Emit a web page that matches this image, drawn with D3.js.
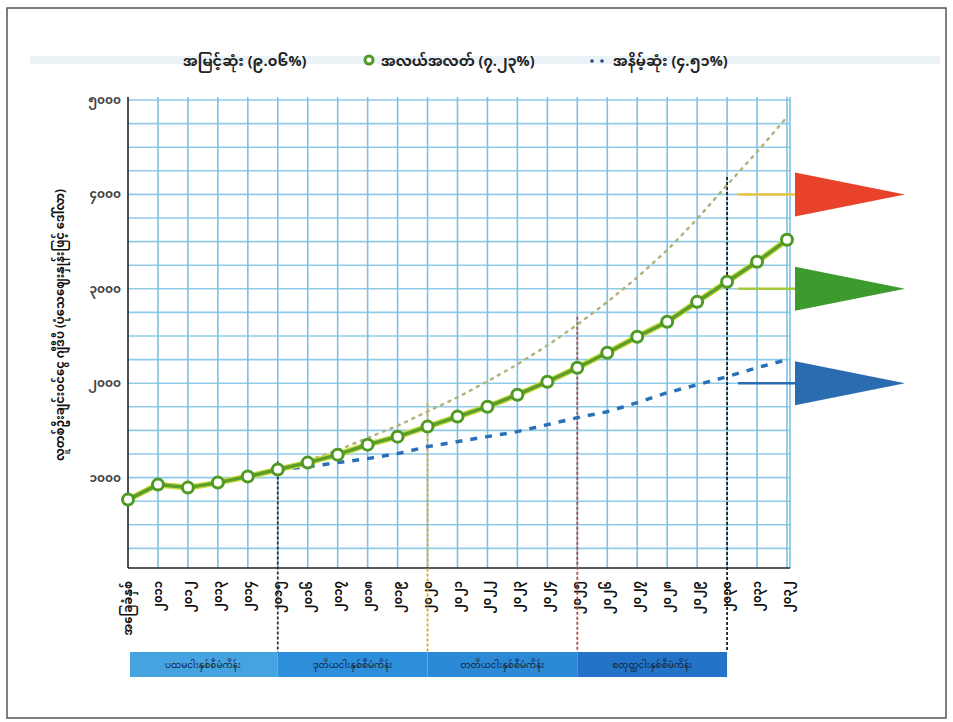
<!DOCTYPE html>
<html>
<head lang="my">
    <meta charset="UTF-8">
    <title></title>
    <script src="https://cdnjs.cloudflare.com/ajax/libs/d3/7.8.5/d3.min.js"></script>
    <style>
        body { margin: 0; background: #fff; }
        text { font-family: "Noto Sans Myanmar", "Padauk", "Myanmar Text", "DejaVu Sans", sans-serif; }
    </style>
</head>
<body>
<div id="chart"></div>
<script>
    var years = ["အခြေခံနှစ်", "၂၀၁၁", "၂၀၁၂", "၂၀၁၃", "၂၀၁၄", "၂၀၁၅", "၂၀၁၆", "၂၀၁၇", "၂၀၁၈", "၂၀၁၉",
        "၂၀၂၀", "၂၀၂၁", "၂၀၂၂", "၂၀၂၃", "၂၀၂၄", "၂၀၂၅", "၂၀၂၆", "၂၀၂၇", "၂၀၂၈", "၂၀၂၉",
        "၂၀၃၀", "၂၀၃၁", "၂၀၃၂"];

    // အလယ်အလတ်
    var medium = [767, 926, 894, 947, 1011, 1085, 1159, 1243, 1349, 1434, 1540, 1646,
        1751, 1878, 2016, 2164, 2323, 2492, 2651, 2862, 3074, 3286, 3519];
    // အမြင့်ဆုံး (index 5 ကစ)
    var high = [null, null, null, null, null, 1085, 1180, 1290, 1420, 1550, 1700, 1850,
        2020, 2200, 2400, 2620, 2860, 3120, 3410, 3740, 4100, 4450, 4820];
    // အနိမ့်ဆုံး (index 5 ကစ)
    var low = [null, null, null, null, null, 1085, 1116, 1159, 1201, 1254, 1328, 1381,
        1434, 1487, 1561, 1635, 1698, 1794, 1899, 1984, 2069, 2164, 2249];

    var yTicks = [1000, 2000, 3000, 4000, 5000];
    var yTickLabels = ["၁၀၀၀", "၂၀၀၀", "၃၀၀၀", "၄၀၀၀", "၅၀၀၀"];
    var legendLabels = ["အမြင့်ဆုံး (၉.၀၆%)", "အလယ်အလတ် (၇.၂၃%)", "အနိမ့်ဆုံး (၄.၅၁%)"];
    var plans = ["ပထမငါးနှစ်စီမံကိန်း", "ဒုတိယငါးနှစ်စီမံကိန်း", "တတိယငါးနှစ်စီမံကိန်း", "စတုတ္ထငါးနှစ်စီမံကိန်း"];
    var planBreaks = [0, 5, 10, 15, 20];
    var arrowLevels = [4000, 3000, 2000];
    var yTitle = "လူတစ်ဦးချင်းဝင်ငွေ ဂျီဒီပီ (ပုံသေဈေးနှုန်းဖြင့် ဒေါ်လာ)";

    var W = 953, H = 722;
    var svg = d3.select("#chart").append("svg")
            .attr("width", W)
            .attr("height", H);

    // page frame
    svg.append("rect")
            .attr("x", 7).attr("y", 8)
            .attr("width", 939).attr("height", 710)
            .attr("fill", "none")
            .attr("stroke", "#555")
            .attr("stroke-width", 1.5);

    var x = d3.scalePoint()
            .domain(d3.range(years.length))
            .range([128, 787]);
    var y = d3.scaleLinear()
            .domain([0, 5000])
            .range([572, 100]);

    var plotTop = 97, plotBottom = 568;

    // grid
    var grid = svg.append("g");
    grid.selectAll("line.h")
            .data(d3.range(250, 5001, 250))
            .enter().append("line")
            .attr("x1", 128).attr("x2", 790)
            .attr("y1", function(d){ return y(d); })
            .attr("y2", function(d){ return y(d); })
            .attr("stroke", "#8fcbe8")
            .attr("stroke-width", 1.6);
    grid.selectAll("line.v")
            .data(d3.range(1, years.length))
            .enter().append("line")
            .attr("x1", function(d){ return x(d); })
            .attr("x2", function(d){ return x(d); })
            .attr("y1", plotTop).attr("y2", plotBottom)
            .attr("stroke", "#7fc0e2")
            .attr("stroke-width", 1.6);
    grid.append("line")
            .attr("x1", 790).attr("x2", 790)
            .attr("y1", plotTop).attr("y2", plotBottom)
            .attr("stroke", "#7fc0e2")
            .attr("stroke-width", 1.6);

    // axes
    svg.append("line")
            .attr("x1", 128).attr("x2", 128)
            .attr("y1", plotTop).attr("y2", plotBottom)
            .attr("stroke", "#222").attr("stroke-width", 1.6);
    svg.append("line")
            .attr("x1", 128).attr("x2", 790)
            .attr("y1", plotBottom).attr("y2", plotBottom)
            .attr("stroke", "#222").attr("stroke-width", 1.6);

    svg.selectAll("text.ytick")
            .data(yTicks)
            .enter().append("text")
            .attr("x", 121)
            .attr("y", function(d){ return y(d) + 4; })
            .attr("text-anchor", "end")
            .attr("font-size", 12)
            .attr("font-weight", "bold")
            .attr("fill", "#444")
            .text(function(d, i){ return yTickLabels[i]; });

    svg.append("text")
            .attr("transform", "translate(64,325) rotate(-90)")
            .attr("text-anchor", "middle")
            .attr("font-size", 11.5)
            .attr("font-weight", "bold")
            .attr("fill", "#111")
            .text(yTitle);

    svg.selectAll("text.xlab")
            .data(years)
            .enter().append("text")
            .attr("transform", function(d, i){ return "translate(" + (x(i) + 4) + ",581) rotate(-90)"; })
            .attr("text-anchor", "end")
            .attr("font-size", 11.5)
            .attr("font-weight", "bold")
            .attr("fill", "#111")
            .text(function(d){ return d; });

    // plan separators
    var sepColors = ["#333", "#d6a92a", "#b24a4a", "#222"];
    svg.selectAll("line.sep")
            .data(planBreaks.slice(1))
            .enter().append("line")
            .attr("x1", function(d){ return x(d); })
            .attr("x2", function(d){ return x(d); })
            .attr("y1", function(d){ return y(high[d]) - 8; })
            .attr("y2", 652)
            .attr("stroke", function(d, i){ return sepColors[i]; })
            .attr("stroke-width", 1.8)
            .attr("stroke-dasharray", "3,2");

    // plan band
    var bandColors = ["#45a3e2", "#2d8edb", "#2b89d6", "#2374c8"];
    var band = svg.selectAll("g.plan")
            .data(plans)
            .enter().append("g");
    band.append("rect")
            .attr("x", function(d, i){ return i == 0 ? 130 : x(planBreaks[i]); })
            .attr("y", 652)
            .attr("width", function(d, i){ return x(planBreaks[i + 1]) - (i == 0 ? 130 : x(planBreaks[i])); })
            .attr("height", 25)
            .attr("fill", function(d, i){ return bandColors[i]; });
    band.append("text")
            .attr("x", function(d, i){ return (x(planBreaks[i]) + x(planBreaks[i + 1])) / 2; })
            .attr("y", 668)
            .attr("text-anchor", "middle")
            .attr("font-size", 9)
            .attr("fill", "#14243a")
            .text(function(d){ return d; });

    var line = d3.line()
            .defined(function(d){ return d != null; })
            .x(function(d, i){ return x(i); })
            .y(function(d){ return y(d); });

    // high (dotted)
    svg.append("path")
            .datum(high)
            .attr("d", line)
            .attr("fill", "none")
            .attr("stroke", "#b3b27a")
            .attr("stroke-width", 2.5)
            .attr("stroke-dasharray", "2,6")
            .attr("stroke-linecap", "round");

    // low (dashed)
    svg.append("path")
            .datum(low)
            .attr("d", line)
            .attr("fill", "none")
            .attr("stroke", "#2a70b8")
            .attr("stroke-width", 3.5)
            .attr("stroke-dasharray", "7,8");

    // medium
    svg.append("path")
            .datum(medium)
            .attr("d", line)
            .attr("fill", "none")
            .attr("stroke", "#c9dc3c")
            .attr("stroke-width", 6);
    svg.append("path")
            .datum(medium)
            .attr("d", line)
            .attr("fill", "none")
            .attr("stroke", "#5c9e2c")
            .attr("stroke-width", 3.5);
    svg.selectAll("circle.pt")
            .data(medium)
            .enter().append("circle")
            .attr("cx", function(d, i){ return x(i); })
            .attr("cy", function(d){ return y(d); })
            .attr("r", 5.5)
            .attr("fill", "#fff")
            .attr("stroke", "#4f9a25")
            .attr("stroke-width", 3);

    // arrows on right
    var arrowFill = ["#e8432a", "#3d9a2c", "#2b6cb0"];
    var arrowLine = ["#e9c43e", "#a8c840", "#2b6cb0"];
    var arr = svg.selectAll("g.arrow")
            .data(arrowLevels)
            .enter().append("g");
    arr.append("line")
            .attr("x1", 738).attr("x2", 800)
            .attr("y1", function(d){ return y(d); })
            .attr("y2", function(d){ return y(d); })
            .attr("stroke", function(d, i){ return arrowLine[i]; })
            .attr("stroke-width", 2.5);
    arr.append("path")
            .attr("d", function(d){
                var c = y(d);
                return "M795," + (c - 22) + "L905," + c + "L795," + (c + 22) + "Z";
            })
            .attr("fill", function(d, i){ return arrowFill[i]; });

    // legend
    var lg = svg.append("g");
    lg.append("rect")
            .attr("x", 30).attr("y", 56)
            .attr("width", 910).attr("height", 8)
            .attr("fill", "#ecf3f7");
    lg.append("text")
            .attr("x", 183).attr("y", 66)
            .attr("font-size", 14.5).attr("font-weight", "bold").attr("fill", "#222")
            .text(legendLabels[0]);
    lg.append("circle")
            .attr("cx", 369).attr("cy", 60).attr("r", 4)
            .attr("fill", "#fff").attr("stroke", "#4f9a25").attr("stroke-width", 3);
    lg.append("text")
            .attr("x", 381).attr("y", 66)
            .attr("font-size", 14.5).attr("font-weight", "bold").attr("fill", "#222")
            .text(legendLabels[1]);
    lg.selectAll("circle.dot")
            .data([592, 602])
            .enter().append("circle")
            .attr("cx", function(d){ return d; }).attr("cy", 61).attr("r", 1.8)
            .attr("fill", "#2a4a70");
    lg.append("text")
            .attr("x", 613).attr("y", 66)
            .attr("font-size", 14.5).attr("font-weight", "bold").attr("fill", "#222")
            .text(legendLabels[2]);
</script>
</body>
</html>
